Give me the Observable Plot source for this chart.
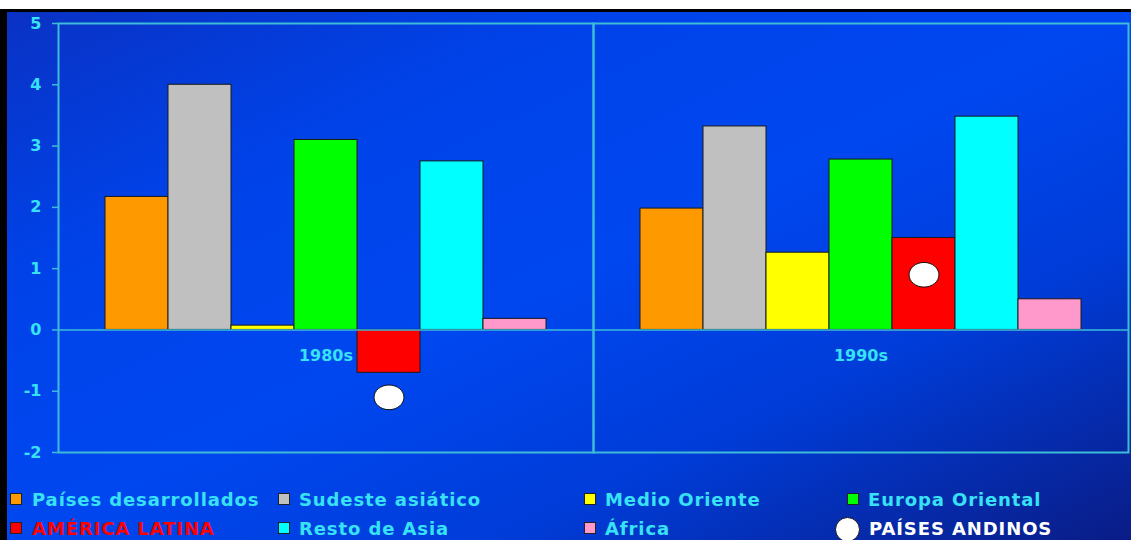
<!DOCTYPE html>
<html>
<head>
<meta charset="utf-8">
<script src="https://cdn.jsdelivr.net/npm/d3@7"></script>
<script src="https://cdn.jsdelivr.net/npm/@observablehq/plot@0.6"></script>
<style>
  html, body { margin: 0; padding: 0; background: #fff; }
  #panel {
    position: absolute; left: 0; top: 9px; width: 1131px; height: 531px;
    box-sizing: border-box; border-top: 3px solid #000; border-left: 7px solid #000;
    background: linear-gradient(to bottom right, #0a32c4 0%, #0042e8 25%, #0047f0 50%, #003cd8 72%, #0a1c86 100%);
    overflow: hidden;
    font-family: "DejaVu Sans", sans-serif; font-weight: bold;
  }
  #chart { position: absolute; left: 0; top: 0; }
  .item { position: absolute; height: 18px; line-height: 18px; font-size: 18px; letter-spacing: 0.9px; white-space: nowrap; }
  .sw { position: absolute; width: 10px; height: 10px; border: 1.5px solid #222; }
  .dotsw { position: absolute; width: 23px; height: 23px; border-radius: 50%; background: #fff; border: 1px solid #111; }
</style>
</head>
<body>
<div id="panel">
  <div id="chart"></div>
  <div id="legend"></div>
</div>
<script>
// Growth by region, two decades
const decades = ["1980s", "1990s"];
const regions = ["Países desarrollados", "Sudeste asiático", "Medio Oriente", "Europa Oriental", "AMÉRICA LATINA", "Resto de Asia", "África"];
const regionColors = ["#ff9900", "#c0c0c0", "#ffff00", "#00ff00", "#ff0000", "#00ffff", "#ff99cc"];
const values1980s = [2.17, 4.0, 0.07, 3.1, -0.7, 2.75, 0.18];
const values1990s = [1.98, 3.32, 1.26, 2.78, 1.5, 3.48, 0.5];
const andeanLabel = "PAÍSES ANDINOS";
const andeanValues = [-1.1, 0.9];
const yTicks = [-2, -1, 0, 1, 2, 3, 4, 5];

const textColor = "#38e2f6";
const lineColor = "#3cbcd8";

const rows = [];
decades.forEach((dec, i) => {
  const vals = i === 0 ? values1980s : values1990s;
  regions.forEach((r, j) => rows.push({decade: dec, region: r, value: vals[j]}));
});
const andean = decades.map((dec, i) => ({decade: dec, region: "AMÉRICA LATINA", value: andeanValues[i]}));

// Slightly wide ellipse marker for the Andean countries
const ellipse = {
  draw(ctx, size) {
    const r = Math.sqrt(size / Math.PI), rx = r * 1.15, ry = r * 0.95, k = 0.5523;
    ctx.moveTo(rx, 0);
    ctx.bezierCurveTo(rx, ry * k, rx * k, ry, 0, ry);
    ctx.bezierCurveTo(-rx * k, ry, -rx, ry * k, -rx, 0);
    ctx.bezierCurveTo(-rx, -ry * k, -rx * k, -ry, 0, -ry);
    ctx.bezierCurveTo(rx * k, -ry, rx, -ry * k, rx, 0);
    ctx.closePath();
  }
};

const chart = Plot.plot({
  width: 1124,
  height: 460,
  marginLeft: 50,
  marginRight: 3,
  marginTop: 11,
  marginBottom: 20,
  style: {background: "transparent", color: textColor, fontFamily: "DejaVu Sans", fontSize: "16px", fontWeight: "bold", overflow: "visible"},
  fx: {domain: decades, paddingInner: 0, paddingOuter: 0, axis: null, label: null},
  x: {domain: regions, paddingInner: 0, paddingOuter: 0.72, axis: null},
  y: {domain: [-2, 5], axis: null},
  color: {domain: regions, range: regionColors},
  marks: [
    Plot.frame({stroke: lineColor, strokeWidth: 2}),
    Plot.axisY({ticks: yTicks, tickFormat: d => String(d), tickSize: 6, tickPadding: 11, stroke: lineColor, strokeWidth: 1.5, fill: textColor, fontSize: 16, fontWeight: "bold", label: null}),
    Plot.barY(rows, {fx: "decade", x: "region", y: "value", fill: "region", stroke: "#1a1a1a", strokeWidth: 1}),
    Plot.ruleY([0], {stroke: lineColor, strokeWidth: 1.5}),
    Plot.text(decades, {fx: d => d, text: d => d, y: 0, dy: 26, frameAnchor: "middle", fill: textColor, fontSize: 16, fontWeight: "bold"}),
    Plot.dot(andean, {fx: "decade", x: "region", y: "value", r: 13, symbol: ellipse, fill: "#ffffff", stroke: "#111", strokeWidth: 1})
  ]
});
document.getElementById("chart").appendChild(chart);

// Legend below the plot
const legend = document.getElementById("legend");
const cols = [3, 271, 577, 840];
const rowTops = [479, 508];
const items = regions.map((r, i) => ({label: r, color: regionColors[i], text: r === "AMÉRICA LATINA" ? "#ff0000" : textColor}));
items.forEach((it, k) => {
  const row = k < 4 ? 0 : 1, col = k % 4;
  const sw = document.createElement("div");
  sw.className = "sw";
  sw.style.left = cols[col] + "px";
  sw.style.top = (rowTops[row] + 2) + "px";
  sw.style.background = it.color;
  legend.appendChild(sw);
  const t = document.createElement("div");
  t.className = "item";
  t.style.left = (cols[col] + (col === 0 ? 22 : 21)) + "px";
  t.style.top = rowTops[row] + "px";
  t.style.color = it.text;
  t.textContent = it.label;
  legend.appendChild(t);
});
const dsw = document.createElement("div");
dsw.className = "dotsw";
dsw.style.left = "828px";
dsw.style.top = (rowTops[1] - 3) + "px";
legend.appendChild(dsw);
const dt = document.createElement("div");
dt.className = "item";
dt.style.left = "862px";
dt.style.top = rowTops[1] + "px";
dt.style.color = "#ffffff";
dt.textContent = andeanLabel;
legend.appendChild(dt);
</script>
</body>
</html>
